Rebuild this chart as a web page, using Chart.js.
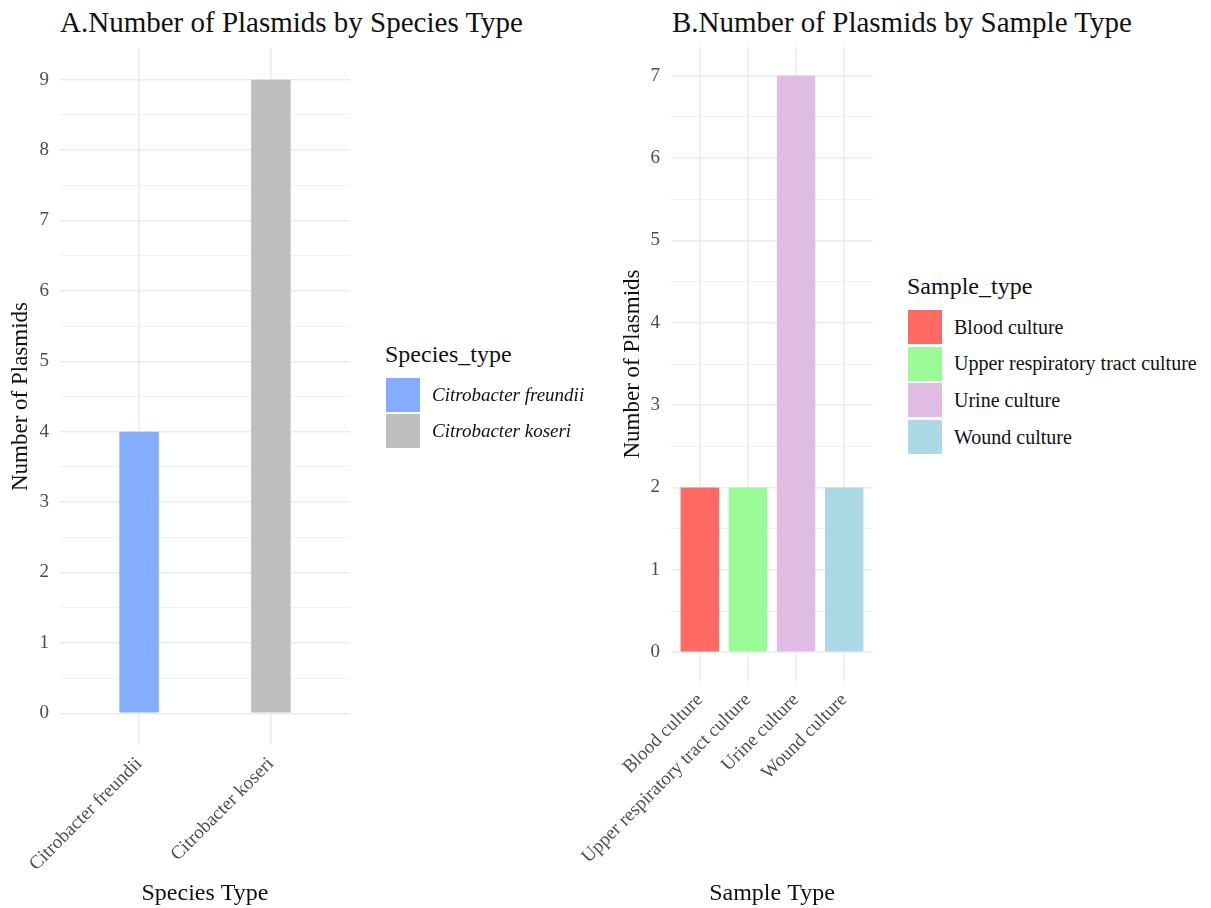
<!DOCTYPE html>
<html>
<head>
<meta charset="utf-8">
<script src="https://cdn.jsdelivr.net/npm/chart.js@4.4.1/dist/chart.umd.min.js"></script>
<style>
  html, body { margin: 0; padding: 0; background: #ffffff; }
  body { position: relative; width: 1211px; height: 908px; overflow: hidden;
         font-family: "Liberation Serif", "Times New Roman", serif; color: #111; }
  canvas { position: absolute; top: 0; }
  .main-title { position: absolute; font-size: 29px; line-height: 29px; white-space: nowrap; color: #111; }
  .lg-title { position: absolute; font-size: 24px; line-height: 24px; white-space: nowrap; color: #111; }
  .lg-item { position: absolute; display: flex; align-items: center; white-space: nowrap; }
  .lg-key { width: 34px; height: 34px; margin-right: 12px; }
  .lg-text { font-size: 20px; color: #111; }
</style>
</head>
<body>
<div class="main-title" style="left:60px; top:8px;">A.Number of Plasmids by Species Type</div>
<div class="main-title" style="left:672px; top:8px;">B.Number of Plasmids by Sample Type</div>

<canvas id="chartA" width="360" height="908" style="left:0px; width:360px; height:908px;"></canvas>
<canvas id="chartB" width="320" height="908" style="left:560px; width:320px; height:908px;"></canvas>

<div id="legendA"></div>
<div id="legendB"></div>

<script>
// Panel A: plasmid counts per species
const speciesTypes  = ['Citrobacter freundii', 'Citrobacter koseri'];
const speciesCounts = [4, 9];
const speciesColors = ['#85ADFF', '#BEBEBE'];
const speciesMax    = 9;

// Panel B: plasmid counts per sample type
const sampleTypes  = ['Blood culture', 'Upper respiratory tract culture', 'Urine culture', 'Wound culture'];
const sampleCounts = [2, 2, 7, 2];
const sampleColors = ['#FF6A63', '#9AFB96', '#E0BBE3', '#ADD8E6'];
const sampleMax    = 7;

const FONT = '"Liberation Serif", "Times New Roman", serif';
const TICK_COLOR = '#4d4d4d';
const GRID_MAJOR = '#ebebeb';
const GRID_MINOR = '#f1f1f1';

Chart.defaults.font.family = FONT;

function isWhole(v) { return Math.abs(v - Math.round(v)) < 1e-9; }

function buildPanel(canvasId, cfg) {
  const n = cfg.labels.length;
  return new Chart(document.getElementById(canvasId), {
    type: 'bar',
    data: {
      datasets: [{
        data: cfg.values.map((v, i) => ({ x: i + 1, y: v })),
        backgroundColor: cfg.colors,
        borderWidth: 0,
        categoryPercentage: 1,
        barPercentage: cfg.barWidth
      }]
    },
    options: {
      responsive: false,
      animation: false,
      events: [],
      devicePixelRatio: 1,
      layout: { padding: { top: cfg.top, right: cfg.right, left: 0, bottom: 0 } },
      plugins: { legend: { display: false }, tooltip: { enabled: false }, title: { display: false } },
      scales: {
        x: {
          type: 'linear',
          offset: false,
          min: 0.4,
          max: n + 0.6,
          afterBuildTicks: s => { s.ticks = cfg.labels.map((_, i) => ({ value: i + 1 })); },
          afterFit: s => { s.height = cfg.xAxisHeight; },
          ticks: {
            autoSkip: false, minRotation: 45, maxRotation: 45, padding: 8,
            color: TICK_COLOR, font: { size: 19 },
            callback: v => cfg.labels[Math.round(v) - 1]
          },
          grid: { offset: false, color: GRID_MAJOR, lineWidth: 1.5, drawTicks: false },
          border: { display: false },
          title: { display: true, text: cfg.xTitle, color: '#111', font: { size: 24 }, padding: { top: 0, bottom: 0 } }
        },
        y: {
          type: 'linear',
          min: -cfg.yMax * 0.05,
          max: cfg.yMax * 1.05,
          afterBuildTicks: s => {
            const t = [];
            for (let v = 0; v <= cfg.yMax + 1e-9; v += 0.5) t.push({ value: v });
            s.ticks = t;
          },
          afterFit: s => { s.width = cfg.yAxisWidth; },
          ticks: {
            padding: 11, color: TICK_COLOR, font: { size: 19 },
            callback: v => isWhole(v) ? String(Math.round(v)) : ''
          },
          grid: {
            drawTicks: false,
            color: c => isWhole(c.tick.value) ? GRID_MAJOR : GRID_MINOR,
            lineWidth: c => isWhole(c.tick.value) ? 1.5 : 1
          },
          border: { display: false },
          title: { display: true, text: 'Number of Plasmids', color: '#111', font: { size: 23 }, padding: { top: cfg.yTitlePad, bottom: 0 } }
        }
      }
    }
  });
}

buildPanel('chartA', {
  labels: speciesTypes, values: speciesCounts, colors: speciesColors, yMax: speciesMax,
  barWidth: 0.3, top: 48, right: 10, yAxisWidth: 60, xAxisHeight: 163,
  xTitle: 'Species Type', yTitlePad: 7
});

buildPanel('chartB', {
  labels: sampleTypes, values: sampleCounts, colors: sampleColors, yMax: sampleMax,
  barWidth: 0.8, top: 47, right: 7, yAxisWidth: 111, xAxisHeight: 227,
  xTitle: 'Sample Type', yTitlePad: 59
});

// Legends to the right of each panel
function buildLegend(id, title, labels, colors, left, titleTop, keyTop, pitch, italic) {
  const box = document.getElementById(id);
  const t = document.createElement('div');
  t.className = 'lg-title';
  t.style.left = (left - 1) + 'px';
  t.style.top = titleTop + 'px';
  t.textContent = title;
  box.appendChild(t);
  labels.forEach((lab, i) => {
    const item = document.createElement('div');
    item.className = 'lg-item';
    item.style.left = left + 'px';
    item.style.top = (keyTop + i * pitch) + 'px';
    const key = document.createElement('div');
    key.className = 'lg-key';
    key.style.background = colors[i];
    const txt = document.createElement('span');
    txt.className = 'lg-text';
    if (italic) { txt.style.fontStyle = 'italic'; txt.style.fontSize = '19px'; }
    txt.textContent = lab;
    item.appendChild(key);
    item.appendChild(txt);
    box.appendChild(item);
  });
}

buildLegend('legendA', 'Species_type', speciesTypes, speciesColors, 386, 342, 378, 36, true);
buildLegend('legendB', 'Sample_type', sampleTypes, sampleColors, 908, 274, 310, 36.7, false);
</script>
</body>
</html>
